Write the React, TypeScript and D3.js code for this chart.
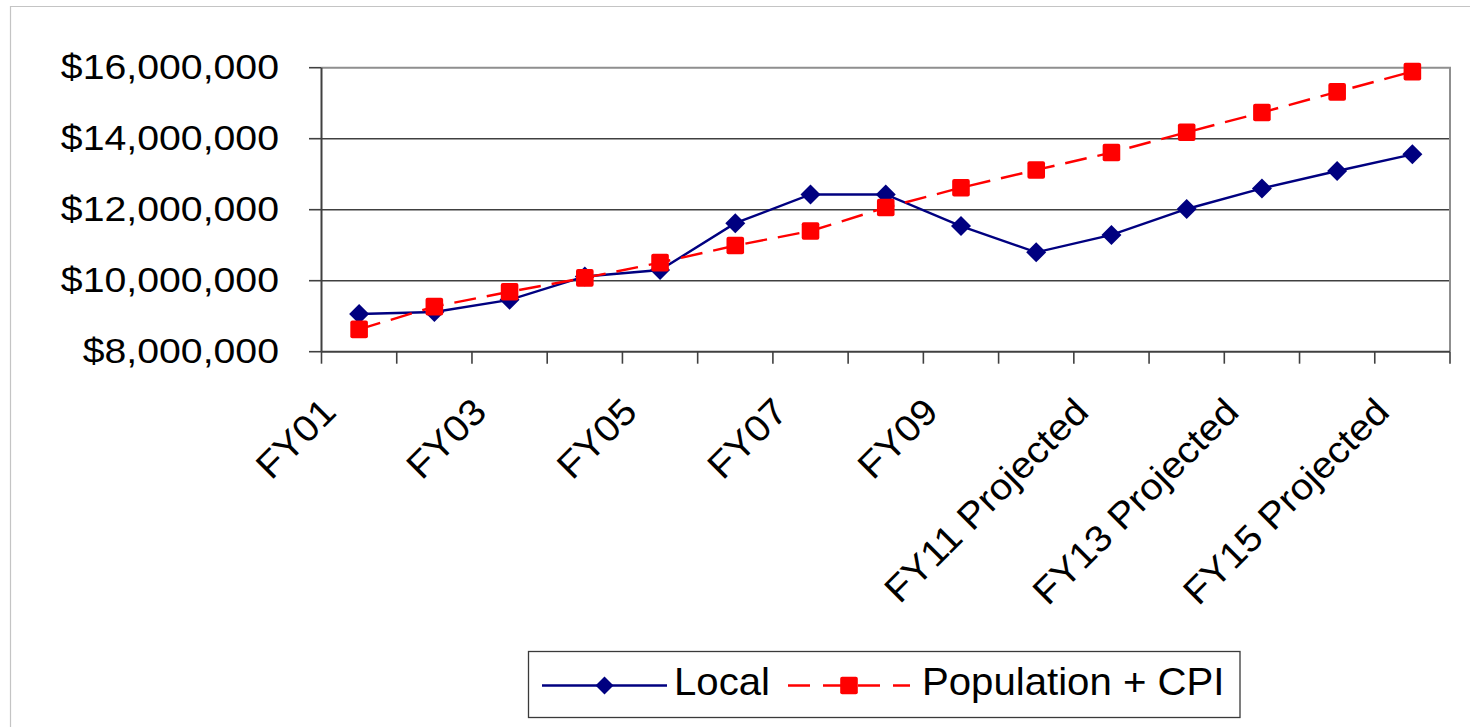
import React from "react";
import * as d3 from "d3";

// Fiscal years on the category axis
const categories = [
  "FY01", "FY02", "FY03", "FY04", "FY05", "FY06", "FY07", "FY08", "FY09",
  "FY10 Projected", "FY11 Projected", "FY12 Projected", "FY13 Projected",
  "FY14 Projected", "FY15 Projected",
];

// Series values in dollars
const localValues = [
  9060000, 9120000, 9460000, 10120000, 10300000, 11620000, 12430000, 12430000,
  11540000, 10800000, 11290000, 12020000, 12600000, 13090000, 13560000,
];
const popCpiValues = [
  8630000, 9270000, 9690000, 10080000, 10510000, 10990000, 11400000, 12060000,
  12620000, 13120000, 13610000, 14180000, 14740000, 15320000, 15890000,
];

const seriesNames = ["Local", "Population + CPI"];
const yTickValues = [8000000, 10000000, 12000000, 14000000, 16000000];

const W = 1470;
const H = 727;
const plot = { left: 321.5, right: 1450, top: 67.7, bottom: 351.7 };
const FONT = "'Liberation Sans', Arial, Helvetica, sans-serif";
const NAVY = "#000080";
const RED = "#FF0000";

function diamondPath(cx: number, cy: number, hw: number, hh: number) {
  return `M${cx},${cy - hh}L${cx + hw},${cy}L${cx},${cy + hh}L${cx - hw},${cy}Z`;
}

export default function App() {
  const x = d3.scaleBand<string>().domain(categories).range([plot.left, plot.right]).padding(0);
  const y = d3.scaleLinear().domain([8000000, 16000000]).range([plot.bottom, plot.top]);
  const cx = (i: number) => (x(categories[i]) as number) + x.bandwidth() / 2;
  const fmt = d3.format("$,.0f");

  const line = d3
    .line<number>()
    .x((_, i) => cx(i))
    .y((v) => y(v));

  const boundaries = d3.range(categories.length + 1).map((i) =>
    i < categories.length ? (x(categories[i]) as number) : plot.right
  );

  return (
    <svg
      width={W}
      height={H}
      style={{ position: "absolute", left: 0, top: 0, background: "#fff" }}
      fontFamily={FONT}
    >
      <rect x={0} y={0} width={W} height={H} fill="#fff" />
      {/* outer chart frame */}
      <path d={`M${W},6.5H10.5V${H}`} fill="none" stroke="#c4c4c4" strokeWidth={1.2} />

      {/* horizontal gridlines */}
      {yTickValues.slice(1, -1).map((v) => (
        <line
          key={v}
          x1={plot.left}
          x2={plot.right}
          y1={y(v)}
          y2={y(v)}
          stroke="#404040"
          strokeWidth={1.6}
        />
      ))}
      {/* plot border top and right */}
      <path
        d={`M${plot.left},${y(16000000)}H${plot.right}V${plot.bottom}`}
        fill="none"
        stroke="#8f8f8f"
        strokeWidth={2}
      />

      {/* value axis */}
      <line x1={plot.left} x2={plot.left} y1={plot.top} y2={plot.bottom} stroke="#404040" strokeWidth={2} />
      {yTickValues.map((v) => (
        <g key={v}>
          <line x1={309} x2={plot.left} y1={y(v)} y2={y(v)} stroke="#404040" strokeWidth={1.6} />
          <text
            transform={`translate(279,${y(v) + 10.8}) scale(1.09,1)`}
            textAnchor="end"
            fontSize={36}
            fill="#000"
          >
            {fmt(v)}
          </text>
        </g>
      ))}

      {/* category axis */}
      <line x1={plot.left} x2={plot.right} y1={plot.bottom} y2={plot.bottom} stroke="#404040" strokeWidth={2} />
      {boundaries.map((bx, i) => (
        <line key={i} x1={bx} x2={bx} y1={plot.bottom} y2={plot.bottom + 12} stroke="#404040" strokeWidth={1.6} />
      ))}
      {categories.map((c, i) =>
        i % 2 === 0 ? (
          <text
            key={c}
            transform={`translate(${cx(i) - 21},414) rotate(-45) scale(1.07,1)`}
            textAnchor="end"
            fontSize={37}
            fill="#000"
          >
            {c}
          </text>
        ) : null
      )}

      {/* Local series */}
      <path d={line(localValues) || ""} fill="none" stroke={NAVY} strokeWidth={2.4} />
      {localValues.map((v, i) => (
        <path key={i} d={diamondPath(cx(i), y(v), 10, 10)} fill={NAVY} />
      ))}

      {/* Population + CPI series */}
      <path
        d={line(popCpiValues) || ""}
        fill="none"
        stroke={RED}
        strokeWidth={2.4}
        strokeDasharray="22 11"
      />
      {popCpiValues.map((v, i) => (
        <rect key={i} x={cx(i) - 8.8} y={y(v) - 8.8} width={17.6} height={17.6} rx={2} fill={RED} />
      ))}

      {/* legend */}
      <rect x={528.5} y={651.5} width={711.5} height={66} fill="#fff" stroke="#3a3a3a" strokeWidth={1.3} />
      <line x1={542} x2={667} y1={685.5} y2={685.5} stroke={NAVY} strokeWidth={2.4} />
      <path d={diamondPath(604.5, 685.5, 9, 9)} fill={NAVY} />
      <text transform="translate(674,694.5) scale(1.03,1)" fontSize={39} fill="#000">
        {seriesNames[0]}
      </text>
      <line x1={788} x2={910} y1={685.5} y2={685.5} stroke={RED} strokeWidth={2.4} strokeDasharray="22 13" />
      <rect x={849 - 8.8} y={685.5 - 8.8} width={17.6} height={17.6} rx={2} fill={RED} />
      <text transform="translate(922,694.5) scale(1.03,1)" fontSize={39} fill="#000">
        {seriesNames[1]}
      </text>
    </svg>
  );
}
